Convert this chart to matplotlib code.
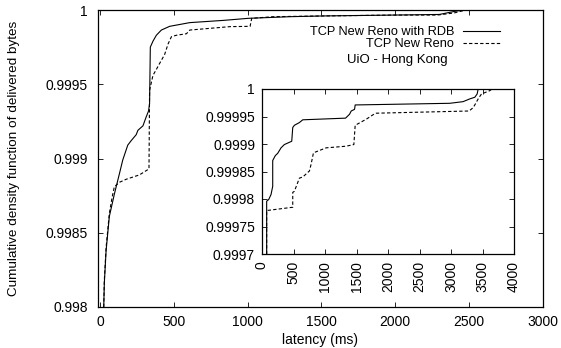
import numpy as np
import matplotlib
matplotlib.use("Agg")
import matplotlib.pyplot as plt

plt.rcParams['font.family'] = ['Liberation Sans', 'DejaVu Sans']
plt.rcParams['font.size'] = 10

# main plot: latency (ms) vs CDF of delivered bytes
rdb_ms = [23, 27, 39, 61, 95, 130, 152, 186, 209, 243, 255, 289, 311, 327, 334,
          339, 357, 380, 414, 470, 607, 834, 1005, 1289, 1516, 2000, 2300, 2400, 2460]
rdb_cdf = [0.998, 0.99816, 0.99838, 0.99861, 0.99876, 0.9989, 0.99899, 0.99909,
           0.99912, 0.99916, 0.99919, 0.99922, 0.99928, 0.99932, 0.99937,
           0.99975, 0.99979, 0.99983, 0.999865, 0.99989, 0.999915, 0.99993,
           0.999944, 0.999955, 0.99996, 0.999966, 0.99997, 0.99999, 1.0]

reno_ms = [23, 27, 39, 61, 80, 95, 130, 175, 266, 330, 334, 341, 357, 380, 402,
           436, 459, 482, 516, 584, 607, 880, 1016, 1027, 1175, 1516, 2000, 2287,
           2400, 2480]
reno_cdf = [0.998, 0.99818, 0.9984, 0.99863, 0.99874, 0.99881, 0.99884, 0.99886,
            0.99889, 0.99893, 0.99946, 0.99949, 0.99956, 0.9996, 0.99964, 0.9997,
            0.99977, 0.99982, 0.99983, 0.99984, 0.999865, 0.999888, 0.99989,
            0.999944, 0.999955, 0.99996, 0.999966, 0.999966, 0.99998, 1.0]

# inset: tail of the distribution
rdb_tail_ms = [74, 74, 106, 143, 170, 170, 212, 249, 302, 355, 472, 488, 514, 594,
               647, 1326, 1389, 1416, 1469, 1479, 2980, 3192, 3298, 3378, 3415, 3431]
rdb_tail_cdf = [0.9997, 0.999796, 0.999799, 0.999808, 0.999823, 0.99987, 0.999879,
                0.999883, 0.999893, 0.999899, 0.999905, 0.99993, 0.999934,
                0.999939, 0.999944, 0.999947, 0.999954, 0.99996, 0.999963,
                0.999971, 0.999974, 0.999977, 0.999982, 0.999985, 0.999991, 1.0]

reno_tail_ms = [74, 74, 488, 488, 514, 594, 647, 753, 779, 817, 1018, 1336, 1458,
                1479, 1654, 1787, 1813, 3287, 3351, 3393, 3431, 3484, 3616, 3650]
reno_tail_cdf = [0.9997, 0.999779, 0.999785, 0.999812, 0.999814, 0.999838, 0.99984,
                 0.999851, 0.999863, 0.999884, 0.999893, 0.999896, 0.999899,
                 0.999934, 0.999945, 0.999955, 0.999956, 0.99996, 0.999966,
                 0.999974, 0.999982, 0.999991, 0.999997, 1.0]

main_xticks = [0, 500, 1000, 1500, 2000, 2500, 3000]
main_yticks = [0.998, 0.9985, 0.999, 0.9995, 1.0]
inset_xticks = [0, 500, 1000, 1500, 2000, 2500, 3000, 3500, 4000]
inset_yticks = [0.9997, 0.99975, 0.9998, 0.99985, 0.9999, 0.99995, 1.0]

label_rdb = "TCP New Reno with RDB"
label_reno = "TCP New Reno"
dash = (0, (3, 2))


def fmt(v):
    return f"{v:g}"


fig = plt.figure(figsize=(5.61, 3.48), dpi=100)
W, H = 561, 348
ax = fig.add_axes([97.7 / W, 1 - 307 / H, 444.8 / W, 297 / H])

ax.plot(rdb_ms, rdb_cdf, color='black', lw=0.8, label=label_rdb)
ax.plot(reno_ms, reno_cdf, color='black', lw=0.8, linestyle=dash, label=label_reno)
ax.set_xlim(-18, 3000)
ax.set_ylim(0.998, 1.0)
ax.set_xticks(main_xticks)
ax.set_yticks(main_yticks)
ax.set_yticklabels([fmt(v) for v in main_yticks])
ax.tick_params(direction='in', top=True, right=True, length=3.5, width=0.6)
ax.tick_params(axis='y', pad=7)
ax.tick_params(axis='x', pad=6)
for s in ax.spines.values():
    s.set_linewidth(0.9)
ax.set_xlabel("latency (ms)")
ax.xaxis.set_label_coords(0.5, -0.111)
ax.xaxis.label.set_va('center')
ax.set_ylabel("Cumulative density function of delivered bytes", fontsize=9.7)
ax.yaxis.set_label_coords(-0.175, 0.5)

leg = ax.legend(loc='upper right', bbox_to_anchor=(0.9045, 0.945), frameon=False,
                markerfirst=False, handlelength=2.9, handletextpad=0.7,
                labelspacing=0.0, borderpad=0, borderaxespad=0, fontsize=9.2)
ax.text(0.673, 0.83, "UiO - Hong Kong", transform=ax.transAxes,
        ha='center', va='center', fontsize=9.5)

# inset
ins = fig.add_axes([262 / W, 1 - 254 / H, 252 / W, 165 / H])
ins.plot(rdb_tail_ms, rdb_tail_cdf, color='black', lw=0.8)
ins.plot(reno_tail_ms, reno_tail_cdf, color='black', lw=0.8, linestyle=dash)
ins.set_xlim(0, 4000)
ins.set_ylim(0.9997, 1.0)
ins.set_xticks(inset_xticks)
ins.set_xticklabels([str(v) for v in inset_xticks], rotation=90)
ins.set_yticks(inset_yticks)
ins.set_yticklabels([fmt(v) for v in inset_yticks])
ins.tick_params(direction='in', top=True, right=True, length=3.5, width=0.6)
ins.tick_params(axis='y', pad=5)
ins.tick_params(axis='x', pad=5)
for s in ins.spines.values():
    s.set_linewidth(0.9)

fig.savefig("out.png", dpi=100)
